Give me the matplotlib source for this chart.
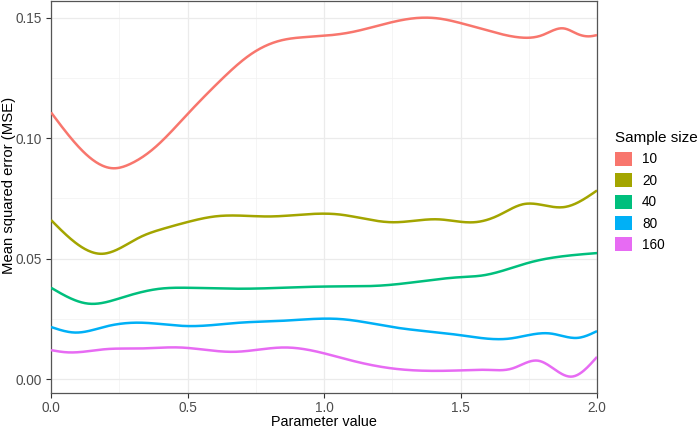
import numpy as np
import matplotlib
matplotlib.use("Agg")
from matplotlib import pyplot as plt
from matplotlib.patches import Patch
from matplotlib.ticker import MultipleLocator

plt.rcParams["font.family"] = ["Liberation Sans", "DejaVu Sans"]

# values
sizes = ["10", "20", "40", "80", "160"]
colors = ["#F8766D", "#A3A500", "#00BF7D", "#00B0F6", "#E76BF3"]

x10 = [0.0, 0.12, 0.23, 0.29, 0.375, 0.5, 0.62, 0.73, 0.839, 0.949, 1.095, 1.25, 1.34, 1.42, 1.5, 1.6, 1.72, 1.8, 1.877, 1.93, 1.974, 2.0]
y10 = [0.1107, 0.0942, 0.0875, 0.0893, 0.0956, 0.110, 0.1239, 0.1347, 0.1405, 0.1421, 0.1439, 0.1482, 0.1499, 0.1497, 0.1478, 0.1447, 0.1418, 0.1428, 0.1456, 0.1432, 0.1423, 0.1428]

x20 = [0.0, 0.186, 0.326, 0.411, 0.497, 0.607, 0.8, 1.05, 1.25, 1.42, 1.55, 1.64, 1.73, 1.88, 2.0]
y20 = [0.066, 0.052, 0.0589, 0.0624, 0.0651, 0.0676, 0.0675, 0.0684, 0.0651, 0.0663, 0.0651, 0.068, 0.0726, 0.0714, 0.0783]

x40 = [0.0, 0.137, 0.265, 0.399, 0.497, 0.692, 1.0, 1.22, 1.5, 1.58, 1.76, 1.85, 2.0]
y40 = [0.0379, 0.0313, 0.034, 0.0375, 0.0379, 0.0375, 0.0384, 0.0389, 0.0423, 0.043, 0.0486, 0.0506, 0.0523]

x80 = [0.0, 0.088, 0.204, 0.326, 0.497, 0.692, 0.85, 1.06, 1.25, 1.5, 1.68, 1.83, 1.93, 2.0]
y80 = [0.0216, 0.0193, 0.0219, 0.0234, 0.022, 0.0234, 0.0242, 0.0249, 0.0216, 0.0182, 0.0168, 0.0189, 0.0171, 0.0199]

x160 = [0.0, 0.057, 0.2, 0.33, 0.473, 0.67, 0.86, 1.1, 1.25, 1.5, 1.6, 1.69, 1.785, 1.907, 2.0]
y160 = [0.012, 0.0111, 0.0124, 0.0127, 0.0131, 0.0113, 0.0131, 0.0077, 0.0044, 0.0036, 0.0038, 0.0044, 0.0076, 0.001, 0.0092]

series = [(x10, y10), (x20, y20), (x40, y40), (x80, y80), (x160, y160)]


def smooth(x, y, n=500):
    # natural cubic spline, only to draw a smooth line through the read points
    x = np.asarray(x, float)
    y = np.asarray(y, float)
    k = len(x)
    h = np.diff(x)
    A = np.zeros((k, k))
    b = np.zeros(k)
    A[0, 0] = A[-1, -1] = 1
    for i in range(1, k - 1):
        A[i, i - 1] = h[i - 1]
        A[i, i] = 2 * (h[i - 1] + h[i])
        A[i, i + 1] = h[i]
        b[i] = 6 * ((y[i + 1] - y[i]) / h[i] - (y[i] - y[i - 1]) / h[i - 1])
    m = np.linalg.solve(A, b)
    xs = np.linspace(x[0], x[-1], n)
    idx = np.clip(np.searchsorted(x, xs) - 1, 0, k - 2)
    t0 = xs - x[idx]
    t1 = x[idx + 1] - xs
    hi = h[idx]
    ys = (m[idx] * t1**3 + m[idx + 1] * t0**3) / (6 * hi) \
        + (y[idx] / hi - m[idx] * hi / 6) * t1 \
        + (y[idx + 1] / hi - m[idx + 1] * hi / 6) * t0
    return xs, ys


fig = plt.figure(figsize=(7, 4.29), dpi=100)
ax = fig.add_axes([0.0729, 0.0839, 0.78, 0.914])

for (xv, yv), c in zip(series, colors):
    xs, ys = smooth(xv, yv)
    ax.plot(xs, ys, color=c, lw=1.8, solid_capstyle="butt", zorder=3)

ax.set_xlim(0, 2.0)
ax.set_ylim(-0.0058, 0.157)
ax.xaxis.set_minor_locator(MultipleLocator(0.25))
ax.yaxis.set_minor_locator(MultipleLocator(0.025))
ax.set_xticks([0, 0.5, 1.0, 1.5, 2.0])
ax.set_xticklabels(["0.0", "0.5", "1.0", "1.5", "2.0"])
ax.set_yticks([0, 0.05, 0.10, 0.15])
ax.set_yticklabels(["0.00", "0.05", "0.10", "0.15"])

ax.grid(which="major", color="#EBEBEB", lw=0.9, zorder=0)
ax.grid(which="minor", color="#F2F2F2", lw=0.5, zorder=0)
ax.set_axisbelow(True)
ax.tick_params(which="major", length=3.5, width=0.8, color="#333333",
               labelsize=9.8, labelcolor="#4D4D4D", pad=3)
ax.tick_params(axis="x", which="major", pad=2)
ax.tick_params(which="minor", length=0)
for s in ax.spines.values():
    s.set_color("#555555")
    s.set_linewidth(0.9)

ax.set_xlabel("Parameter value", fontsize=10.4)
ax.set_ylabel("Mean squared error (MSE)", fontsize=10.7)
ax.xaxis.set_label_coords(0.5, -0.055)
ax.yaxis.set_label_coords(-0.064, 0.53)

handles = [Patch(facecolor=c, edgecolor="none", label=s) for s, c in zip(sizes, colors)]
leg = fig.legend(handles=handles, title="Sample size", loc="upper left",
                 bbox_to_anchor=(615 / 700, 1 - 131 / 429), frameon=False,
                 fontsize=9.8, title_fontsize=11, handlelength=1.25,
                 handleheight=1.2, labelspacing=0.5, handletextpad=0.75,
                 borderpad=0, borderaxespad=0)
leg._legend_box.align = "left"

fig.savefig("out.png", dpi=100)
